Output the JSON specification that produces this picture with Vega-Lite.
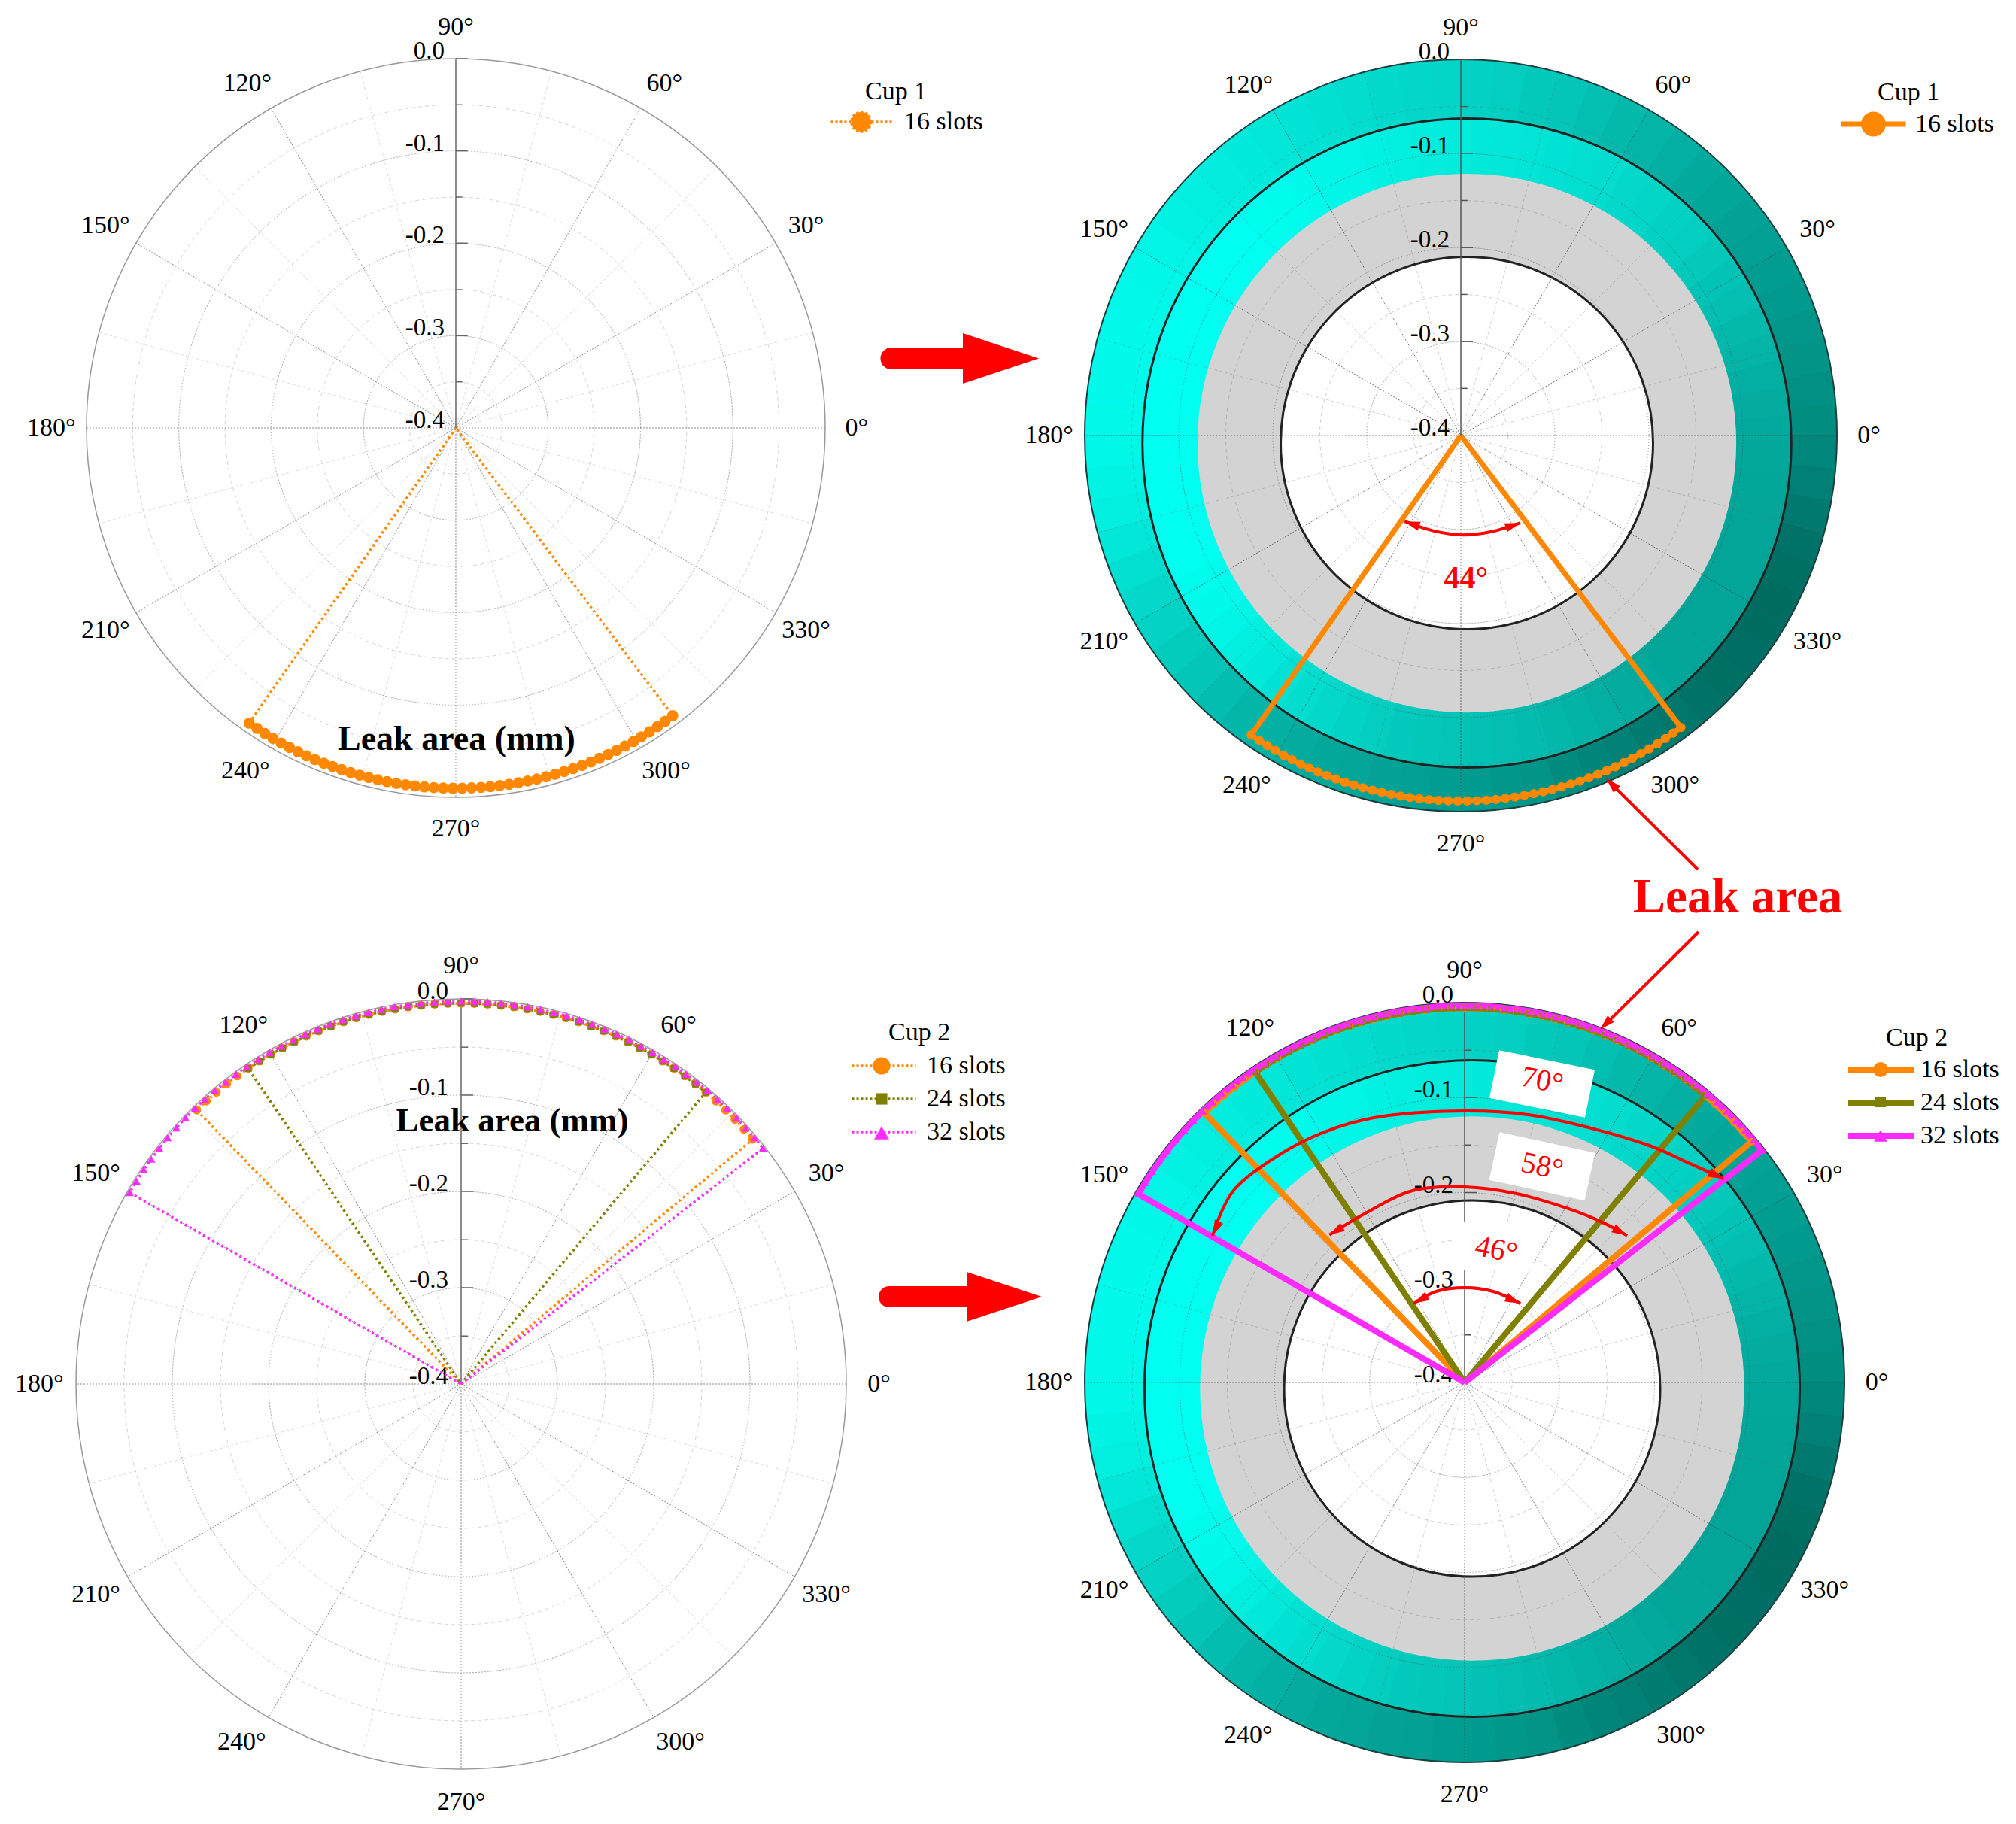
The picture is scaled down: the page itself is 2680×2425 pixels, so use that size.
{"$schema":"https://vega.github.io/schema/vega-lite/v6.json","background":"white","padding":0,"bounds":"flush","spacing":0,"columns":2,
"resolve":{"scale":{"x":"independent","y":"independent","radius":"independent","theta":"independent","color":"independent","fill":"independent","stroke":"independent"},"legend":{"color":"independent"}},
"config":{"view":{"stroke":null},"axis":{"disable":true},"text":{"font":"Liberation Serif","color":"#000"}},
"datasets":{
"segO":[{"o":0,"a":0,"a2":5,"ri":-0.08,"ro":0,"s":143},{"o":0,"a":5,"a2":10,"ri":-0.08,"ro":0,"s":146},{"o":0,"a":10,"a2":15,"ri":-0.08,"ro":0,"s":150},{"o":0,"a":15,"a2":20,"ri":-0.08,"ro":0,"s":153},{"o":0,"a":20,"a2":25,"ri":-0.08,"ro":0,"s":157},{"o":0,"a":25,"a2":30,"ri":-0.08,"ro":0,"s":160},{"o":0,"a":30,"a2":35,"ri":-0.08,"ro":0,"s":163},{"o":0,"a":35,"a2":40,"ri":-0.08,"ro":0,"s":166},{"o":0,"a":40,"a2":45,"ri":-0.08,"ro":0,"s":170},{"o":0,"a":45,"a2":50,"ri":-0.08,"ro":0,"s":174},{"o":0,"a":50,"a2":55,"ri":-0.08,"ro":0,"s":178},{"o":0,"a":55,"a2":60,"ri":-0.08,"ro":0,"s":183},{"o":0,"a":60,"a2":65,"ri":-0.08,"ro":0,"s":188},{"o":0,"a":65,"a2":70,"ri":-0.08,"ro":0,"s":194},{"o":0,"a":70,"a2":75,"ri":-0.08,"ro":0,"s":200},{"o":0,"a":75,"a2":80,"ri":-0.08,"ro":0,"s":204},{"o":0,"a":80,"a2":85,"ri":-0.08,"ro":0,"s":208},{"o":0,"a":85,"a2":90,"ri":-0.08,"ro":0,"s":211},{"o":0,"a":90,"a2":95,"ri":-0.08,"ro":0,"s":215},{"o":0,"a":95,"a2":100,"ri":-0.08,"ro":0,"s":217},{"o":0,"a":100,"a2":105,"ri":-0.08,"ro":0,"s":220},{"o":0,"a":105,"a2":110,"ri":-0.08,"ro":0,"s":223},{"o":0,"a":110,"a2":115,"ri":-0.08,"ro":0,"s":226},{"o":0,"a":115,"a2":120,"ri":-0.08,"ro":0,"s":229},{"o":0,"a":120,"a2":125,"ri":-0.08,"ro":0,"s":232},{"o":0,"a":125,"a2":130,"ri":-0.08,"ro":0,"s":235},{"o":0,"a":130,"a2":135,"ri":-0.08,"ro":0,"s":238},{"o":0,"a":135,"a2":140,"ri":-0.08,"ro":0,"s":240},{"o":0,"a":140,"a2":145,"ri":-0.08,"ro":0,"s":243},{"o":0,"a":145,"a2":150,"ri":-0.08,"ro":0,"s":245},{"o":0,"a":150,"a2":155,"ri":-0.08,"ro":0,"s":248},{"o":0,"a":155,"a2":160,"ri":-0.08,"ro":0,"s":249},{"o":0,"a":160,"a2":165,"ri":-0.08,"ro":0,"s":250},{"o":0,"a":165,"a2":170,"ri":-0.08,"ro":0,"s":250},{"o":0,"a":170,"a2":175,"ri":-0.08,"ro":0,"s":250},{"o":0,"a":175,"a2":180,"ri":-0.08,"ro":0,"s":249},{"o":0,"a":180,"a2":185,"ri":-0.08,"ro":0,"s":248},{"o":0,"a":185,"a2":190,"ri":-0.08,"ro":0,"s":244},{"o":0,"a":190,"a2":195,"ri":-0.08,"ro":0,"s":240},{"o":0,"a":195,"a2":200,"ri":-0.08,"ro":0,"s":232},{"o":0,"a":200,"a2":205,"ri":-0.08,"ro":0,"s":225},{"o":0,"a":205,"a2":210,"ri":-0.08,"ro":0,"s":218},{"o":0,"a":210,"a2":215,"ri":-0.08,"ro":0,"s":212},{"o":0,"a":215,"a2":220,"ri":-0.08,"ro":0,"s":206},{"o":0,"a":220,"a2":225,"ri":-0.08,"ro":0,"s":200},{"o":0,"a":225,"a2":230,"ri":-0.08,"ro":0,"s":192},{"o":0,"a":230,"a2":235,"ri":-0.08,"ro":0,"s":185},{"o":0,"a":235,"a2":240,"ri":-0.08,"ro":0,"s":180},{"o":0,"a":240,"a2":245,"ri":-0.08,"ro":0,"s":175},{"o":0,"a":245,"a2":250,"ri":-0.08,"ro":0,"s":171},{"o":0,"a":250,"a2":255,"ri":-0.08,"ro":0,"s":168},{"o":0,"a":255,"a2":260,"ri":-0.08,"ro":0,"s":165},{"o":0,"a":260,"a2":265,"ri":-0.08,"ro":0,"s":162},{"o":0,"a":265,"a2":270,"ri":-0.08,"ro":0,"s":160},{"o":0,"a":270,"a2":275,"ri":-0.08,"ro":0,"s":158},{"o":0,"a":275,"a2":280,"ri":-0.08,"ro":0,"s":154},{"o":0,"a":280,"a2":285,"ri":-0.08,"ro":0,"s":150},{"o":0,"a":285,"a2":290,"ri":-0.08,"ro":0,"s":142},{"o":0,"a":290,"a2":295,"ri":-0.08,"ro":0,"s":135},{"o":0,"a":295,"a2":300,"ri":-0.08,"ro":0,"s":130},{"o":0,"a":300,"a2":305,"ri":-0.08,"ro":0,"s":125},{"o":0,"a":305,"a2":310,"ri":-0.08,"ro":0,"s":120},{"o":0,"a":310,"a2":315,"ri":-0.08,"ro":0,"s":115},{"o":0,"a":315,"a2":320,"ri":-0.08,"ro":0,"s":112},{"o":0,"a":320,"a2":325,"ri":-0.08,"ro":0,"s":110},{"o":0,"a":325,"a2":330,"ri":-0.08,"ro":0,"s":109},{"o":0,"a":330,"a2":335,"ri":-0.08,"ro":0,"s":108},{"o":0,"a":335,"a2":340,"ri":-0.08,"ro":0,"s":111},{"o":0,"a":340,"a2":345,"ri":-0.08,"ro":0,"s":115},{"o":0,"a":345,"a2":350,"ri":-0.08,"ro":0,"s":122},{"o":0,"a":350,"a2":355,"ri":-0.08,"ro":0,"s":130},{"o":0,"a":355,"a2":360,"ri":-0.08,"ro":0,"s":136}],
"segI":[{"o":0,"a":0,"a2":5,"ri":-0.125,"ro":-0.055,"s":172},{"o":0,"a":5,"a2":10,"ri":-0.125,"ro":-0.055,"s":175},{"o":0,"a":10,"a2":15,"ri":-0.125,"ro":-0.055,"s":178},{"o":0,"a":15,"a2":20,"ri":-0.125,"ro":-0.055,"s":183},{"o":0,"a":20,"a2":25,"ri":-0.125,"ro":-0.055,"s":188},{"o":0,"a":25,"a2":30,"ri":-0.125,"ro":-0.055,"s":193},{"o":0,"a":30,"a2":35,"ri":-0.125,"ro":-0.055,"s":198},{"o":0,"a":35,"a2":40,"ri":-0.125,"ro":-0.055,"s":203},{"o":0,"a":40,"a2":45,"ri":-0.125,"ro":-0.055,"s":208},{"o":0,"a":45,"a2":50,"ri":-0.125,"ro":-0.055,"s":211},{"o":0,"a":50,"a2":55,"ri":-0.125,"ro":-0.055,"s":215},{"o":0,"a":55,"a2":60,"ri":-0.125,"ro":-0.055,"s":218},{"o":0,"a":60,"a2":65,"ri":-0.125,"ro":-0.055,"s":222},{"o":0,"a":65,"a2":70,"ri":-0.125,"ro":-0.055,"s":225},{"o":0,"a":70,"a2":75,"ri":-0.125,"ro":-0.055,"s":228},{"o":0,"a":75,"a2":80,"ri":-0.125,"ro":-0.055,"s":230},{"o":0,"a":80,"a2":85,"ri":-0.125,"ro":-0.055,"s":232},{"o":0,"a":85,"a2":90,"ri":-0.125,"ro":-0.055,"s":234},{"o":0,"a":90,"a2":95,"ri":-0.125,"ro":-0.055,"s":236},{"o":0,"a":95,"a2":100,"ri":-0.125,"ro":-0.055,"s":238},{"o":0,"a":100,"a2":105,"ri":-0.125,"ro":-0.055,"s":240},{"o":0,"a":105,"a2":110,"ri":-0.125,"ro":-0.055,"s":242},{"o":0,"a":110,"a2":115,"ri":-0.125,"ro":-0.055,"s":245},{"o":0,"a":115,"a2":120,"ri":-0.125,"ro":-0.055,"s":247},{"o":0,"a":120,"a2":125,"ri":-0.125,"ro":-0.055,"s":250},{"o":0,"a":125,"a2":130,"ri":-0.125,"ro":-0.055,"s":252},{"o":0,"a":130,"a2":135,"ri":-0.125,"ro":-0.055,"s":254},{"o":0,"a":135,"a2":205,"ri":-0.125,"ro":-0.055,"s":255},{"o":0,"a":205,"a2":210,"ri":-0.125,"ro":-0.055,"s":252},{"o":0,"a":210,"a2":215,"ri":-0.125,"ro":-0.055,"s":250},{"o":0,"a":215,"a2":220,"ri":-0.125,"ro":-0.055,"s":245},{"o":0,"a":220,"a2":225,"ri":-0.125,"ro":-0.055,"s":240},{"o":0,"a":225,"a2":230,"ri":-0.125,"ro":-0.055,"s":234},{"o":0,"a":230,"a2":235,"ri":-0.125,"ro":-0.055,"s":228},{"o":0,"a":235,"a2":240,"ri":-0.125,"ro":-0.055,"s":223},{"o":0,"a":240,"a2":245,"ri":-0.125,"ro":-0.055,"s":218},{"o":0,"a":245,"a2":250,"ri":-0.125,"ro":-0.055,"s":213},{"o":0,"a":250,"a2":255,"ri":-0.125,"ro":-0.055,"s":208},{"o":0,"a":255,"a2":260,"ri":-0.125,"ro":-0.055,"s":205},{"o":0,"a":260,"a2":265,"ri":-0.125,"ro":-0.055,"s":202},{"o":0,"a":265,"a2":270,"ri":-0.125,"ro":-0.055,"s":199},{"o":0,"a":270,"a2":275,"ri":-0.125,"ro":-0.055,"s":196},{"o":0,"a":275,"a2":280,"ri":-0.125,"ro":-0.055,"s":193},{"o":0,"a":280,"a2":285,"ri":-0.125,"ro":-0.055,"s":190},{"o":0,"a":285,"a2":290,"ri":-0.125,"ro":-0.055,"s":186},{"o":0,"a":290,"a2":295,"ri":-0.125,"ro":-0.055,"s":182},{"o":0,"a":295,"a2":300,"ri":-0.125,"ro":-0.055,"s":178},{"o":0,"a":300,"a2":305,"ri":-0.125,"ro":-0.055,"s":175},{"o":0,"a":305,"a2":310,"ri":-0.125,"ro":-0.055,"s":172},{"o":0,"a":310,"a2":315,"ri":-0.125,"ro":-0.055,"s":170},{"o":0,"a":315,"a2":320,"ri":-0.125,"ro":-0.055,"s":169},{"o":0,"a":320,"a2":345,"ri":-0.125,"ro":-0.055,"s":168},{"o":0,"a":345,"a2":350,"ri":-0.125,"ro":-0.055,"s":169},{"o":0,"a":350,"a2":355,"ri":-0.125,"ro":-0.055,"s":170},{"o":0,"a":355,"a2":360,"ri":-0.125,"ro":-0.055,"s":171}],
"minorcir":[{"v":-0.35,"i":-0.4,"a0":0,"a1":360,"o":0},{"v":-0.25,"i":-0.4,"a0":0,"a1":360,"o":0},{"v":-0.15,"i":-0.4,"a0":0,"a1":360,"o":0},{"v":-0.05,"i":-0.4,"a0":0,"a1":360,"o":0}],
"majorcir":[{"v":-0.3,"i":-0.4,"a0":0,"a1":360,"o":0},{"v":-0.2,"i":-0.4,"a0":0,"a1":360,"o":0},{"v":-0.1,"i":-0.4,"a0":0,"a1":360,"o":0}],
"rim":[{"v":0,"i":-0.4,"a0":0,"a1":360,"o":0}],
"black":[{"v":-0.055,"i":-0.4,"a0":0,"a1":360,"o":0},{"v":-0.202,"i":-0.4,"a0":0,"a1":360,"o":0}],
"grey":[{"v":-0.1135,"i":-0.202,"a0":0,"a1":360,"o":0}],
"ang":[{"o":0,"a":0,"t":"0°","r":0.034},{"o":0,"a":30,"t":"30°","r":0.038},{"o":0,"a":58.8,"t":"60°","r":0.036},{"o":0,"a":90,"t":"90°","r":0.034},{"o":0,"a":121.2,"t":"120°","r":0.036},{"o":0,"a":150,"t":"150°","r":0.038},{"o":0,"a":180,"t":"180°","r":0.038},{"o":0,"a":210,"t":"210°","r":0.038},{"o":0,"a":238.5,"t":"240°","r":0.036},{"o":0,"a":270,"t":"270°","r":0.034},{"o":0,"a":301.5,"t":"300°","r":0.036},{"o":0,"a":330,"t":"330°","r":0.038}],
"cup1":[{"s":"16 slots","a":234,"v":-0.4,"x":0,"y":0},{"s":"16 slots","a":235,"x":-0.5736,"y":-0.8192},{"s":"16 slots","a":236.5,"x":-0.5519,"y":-0.8339},{"s":"16 slots","a":238,"x":-0.5299,"y":-0.848},{"s":"16 slots","a":239.5,"x":-0.5075,"y":-0.8616},{"s":"16 slots","a":241,"x":-0.4848,"y":-0.8746},{"s":"16 slots","a":242.5,"x":-0.4617,"y":-0.887},{"s":"16 slots","a":244,"x":-0.4384,"y":-0.8988},{"s":"16 slots","a":245.5,"x":-0.4147,"y":-0.91},{"s":"16 slots","a":247,"x":-0.3907,"y":-0.9205},{"s":"16 slots","a":248.5,"x":-0.3665,"y":-0.9304},{"s":"16 slots","a":250,"x":-0.342,"y":-0.9397},{"s":"16 slots","a":251.5,"x":-0.3173,"y":-0.9483},{"s":"16 slots","a":253,"x":-0.2924,"y":-0.9563},{"s":"16 slots","a":254.5,"x":-0.2672,"y":-0.9636},{"s":"16 slots","a":256,"x":-0.2419,"y":-0.9703},{"s":"16 slots","a":257.5,"x":-0.2164,"y":-0.9763},{"s":"16 slots","a":259,"x":-0.1908,"y":-0.9816},{"s":"16 slots","a":260.5,"x":-0.165,"y":-0.9863},{"s":"16 slots","a":262,"x":-0.1392,"y":-0.9903},{"s":"16 slots","a":263.5,"x":-0.1132,"y":-0.9936},{"s":"16 slots","a":265,"x":-0.0872,"y":-0.9962},{"s":"16 slots","a":266.5,"x":-0.061,"y":-0.9981},{"s":"16 slots","a":268,"x":-0.0349,"y":-0.9994},{"s":"16 slots","a":269.5,"x":-0.0087,"y":-1},{"s":"16 slots","a":271,"x":0.0175,"y":-0.9998},{"s":"16 slots","a":272.5,"x":0.0436,"y":-0.999},{"s":"16 slots","a":274,"x":0.0698,"y":-0.9976},{"s":"16 slots","a":275.5,"x":0.0958,"y":-0.9954},{"s":"16 slots","a":277,"x":0.1219,"y":-0.9925},{"s":"16 slots","a":278.5,"x":0.1478,"y":-0.989},{"s":"16 slots","a":280,"x":0.1736,"y":-0.9848},{"s":"16 slots","a":281.5,"x":0.1994,"y":-0.9799},{"s":"16 slots","a":283,"x":0.225,"y":-0.9744},{"s":"16 slots","a":284.5,"x":0.2504,"y":-0.9681},{"s":"16 slots","a":286,"x":0.2756,"y":-0.9613},{"s":"16 slots","a":287.5,"x":0.3007,"y":-0.9537},{"s":"16 slots","a":289,"x":0.3256,"y":-0.9455},{"s":"16 slots","a":290.5,"x":0.3502,"y":-0.9367},{"s":"16 slots","a":292,"x":0.3746,"y":-0.9272},{"s":"16 slots","a":293.5,"x":0.3987,"y":-0.9171},{"s":"16 slots","a":295,"x":0.4226,"y":-0.9063},{"s":"16 slots","a":296.5,"x":0.4462,"y":-0.8949},{"s":"16 slots","a":298,"x":0.4695,"y":-0.8829},{"s":"16 slots","a":299.5,"x":0.4924,"y":-0.8704},{"s":"16 slots","a":301,"x":0.515,"y":-0.8572},{"s":"16 slots","a":302.5,"x":0.5373,"y":-0.8434},{"s":"16 slots","a":304,"x":0.5592,"y":-0.829},{"s":"16 slots","a":305.5,"x":0.5807,"y":-0.8141},{"s":"16 slots","a":307,"x":0.6018,"y":-0.7986},{"s":"16 slots","a":308,"v":-0.4,"x":0,"y":0}],
"cup2":[{"s":"16 slots","a":39,"v":-0.4,"x":0,"y":0},{"s":"16 slots","a":40,"x":0.766,"y":0.6428},{"s":"16 slots","a":42,"x":0.7431,"y":0.6691},{"s":"16 slots","a":44,"x":0.7193,"y":0.6947},{"s":"16 slots","a":46,"x":0.6947,"y":0.7193},{"s":"16 slots","a":48,"x":0.6691,"y":0.7431},{"s":"16 slots","a":50,"x":0.6428,"y":0.766},{"s":"16 slots","a":52,"x":0.6157,"y":0.788},{"s":"16 slots","a":54,"x":0.5878,"y":0.809},{"s":"16 slots","a":56,"x":0.5592,"y":0.829},{"s":"16 slots","a":58,"x":0.5299,"y":0.848},{"s":"16 slots","a":60,"x":0.5,"y":0.866},{"s":"16 slots","a":62,"x":0.4695,"y":0.8829},{"s":"16 slots","a":64,"x":0.4384,"y":0.8988},{"s":"16 slots","a":66,"x":0.4067,"y":0.9135},{"s":"16 slots","a":68,"x":0.3746,"y":0.9272},{"s":"16 slots","a":70,"x":0.342,"y":0.9397},{"s":"16 slots","a":72,"x":0.309,"y":0.9511},{"s":"16 slots","a":74,"x":0.2756,"y":0.9613},{"s":"16 slots","a":76,"x":0.2419,"y":0.9703},{"s":"16 slots","a":78,"x":0.2079,"y":0.9781},{"s":"16 slots","a":80,"x":0.1736,"y":0.9848},{"s":"16 slots","a":82,"x":0.1392,"y":0.9903},{"s":"16 slots","a":84,"x":0.1045,"y":0.9945},{"s":"16 slots","a":86,"x":0.0698,"y":0.9976},{"s":"16 slots","a":88,"x":0.0349,"y":0.9994},{"s":"16 slots","a":90,"x":0,"y":1},{"s":"16 slots","a":92,"x":-0.0349,"y":0.9994},{"s":"16 slots","a":94,"x":-0.0698,"y":0.9976},{"s":"16 slots","a":96,"x":-0.1045,"y":0.9945},{"s":"16 slots","a":98,"x":-0.1392,"y":0.9903},{"s":"16 slots","a":100,"x":-0.1736,"y":0.9848},{"s":"16 slots","a":102,"x":-0.2079,"y":0.9781},{"s":"16 slots","a":104,"x":-0.2419,"y":0.9703},{"s":"16 slots","a":106,"x":-0.2756,"y":0.9613},{"s":"16 slots","a":108,"x":-0.309,"y":0.9511},{"s":"16 slots","a":110,"x":-0.342,"y":0.9397},{"s":"16 slots","a":112,"x":-0.3746,"y":0.9272},{"s":"16 slots","a":114,"x":-0.4067,"y":0.9135},{"s":"16 slots","a":116,"x":-0.4384,"y":0.8988},{"s":"16 slots","a":118,"x":-0.4695,"y":0.8829},{"s":"16 slots","a":120,"x":-0.5,"y":0.866},{"s":"16 slots","a":122,"x":-0.5299,"y":0.848},{"s":"16 slots","a":124,"x":-0.5592,"y":0.829},{"s":"16 slots","a":126,"x":-0.5878,"y":0.809},{"s":"16 slots","a":128,"x":-0.6157,"y":0.788},{"s":"16 slots","a":130,"x":-0.6428,"y":0.766},{"s":"16 slots","a":132,"x":-0.6691,"y":0.7431},{"s":"16 slots","a":134,"x":-0.6947,"y":0.7193},{"s":"16 slots","a":135,"v":-0.4,"x":0,"y":0},
{"s":"24 slots","a":49,"v":-0.4,"x":0,"y":0},{"s":"24 slots","a":50,"x":0.6428,"y":0.766},{"s":"24 slots","a":52,"x":0.6157,"y":0.788},{"s":"24 slots","a":54,"x":0.5878,"y":0.809},{"s":"24 slots","a":56,"x":0.5592,"y":0.829},{"s":"24 slots","a":58,"x":0.5299,"y":0.848},{"s":"24 slots","a":60,"x":0.5,"y":0.866},{"s":"24 slots","a":62,"x":0.4695,"y":0.8829},{"s":"24 slots","a":64,"x":0.4384,"y":0.8988},{"s":"24 slots","a":66,"x":0.4067,"y":0.9135},{"s":"24 slots","a":68,"x":0.3746,"y":0.9272},{"s":"24 slots","a":70,"x":0.342,"y":0.9397},{"s":"24 slots","a":72,"x":0.309,"y":0.9511},{"s":"24 slots","a":74,"x":0.2756,"y":0.9613},{"s":"24 slots","a":76,"x":0.2419,"y":0.9703},{"s":"24 slots","a":78,"x":0.2079,"y":0.9781},{"s":"24 slots","a":80,"x":0.1736,"y":0.9848},{"s":"24 slots","a":82,"x":0.1392,"y":0.9903},{"s":"24 slots","a":84,"x":0.1045,"y":0.9945},{"s":"24 slots","a":86,"x":0.0698,"y":0.9976},{"s":"24 slots","a":88,"x":0.0349,"y":0.9994},{"s":"24 slots","a":90,"x":0,"y":1},{"s":"24 slots","a":92,"x":-0.0349,"y":0.9994},{"s":"24 slots","a":94,"x":-0.0698,"y":0.9976},{"s":"24 slots","a":96,"x":-0.1045,"y":0.9945},{"s":"24 slots","a":98,"x":-0.1392,"y":0.9903},{"s":"24 slots","a":100,"x":-0.1736,"y":0.9848},{"s":"24 slots","a":102,"x":-0.2079,"y":0.9781},{"s":"24 slots","a":104,"x":-0.2419,"y":0.9703},{"s":"24 slots","a":106,"x":-0.2756,"y":0.9613},{"s":"24 slots","a":108,"x":-0.309,"y":0.9511},{"s":"24 slots","a":110,"x":-0.342,"y":0.9397},{"s":"24 slots","a":112,"x":-0.3746,"y":0.9272},{"s":"24 slots","a":114,"x":-0.4067,"y":0.9135},{"s":"24 slots","a":116,"x":-0.4384,"y":0.8988},{"s":"24 slots","a":118,"x":-0.4695,"y":0.8829},{"s":"24 slots","a":120,"x":-0.5,"y":0.866},{"s":"24 slots","a":122,"x":-0.5299,"y":0.848},{"s":"24 slots","a":124,"x":-0.5592,"y":0.829},{"s":"24 slots","a":125,"v":-0.4,"x":0,"y":0},
{"s":"32 slots","a":37,"v":-0.4,"x":0,"y":0},{"s":"32 slots","a":38,"x":0.793,"y":0.619},{"s":"32 slots","a":40,"x":0.771,"y":0.647},{"s":"32 slots","a":42,"x":0.748,"y":0.673},{"s":"32 slots","a":44,"x":0.724,"y":0.699},{"s":"32 slots","a":46,"x":0.699,"y":0.724},{"s":"32 slots","a":48,"x":0.673,"y":0.748},{"s":"32 slots","a":50,"x":0.647,"y":0.771},{"s":"32 slots","a":52,"x":0.619,"y":0.793},{"s":"32 slots","a":54,"x":0.591,"y":0.814},{"s":"32 slots","a":56,"x":0.563,"y":0.834},{"s":"32 slots","a":58,"x":0.533,"y":0.853},{"s":"32 slots","a":60,"x":0.503,"y":0.871},{"s":"32 slots","a":62,"x":0.472,"y":0.888},{"s":"32 slots","a":64,"x":0.441,"y":0.904},{"s":"32 slots","a":66,"x":0.409,"y":0.919},{"s":"32 slots","a":68,"x":0.377,"y":0.933},{"s":"32 slots","a":70,"x":0.344,"y":0.945},{"s":"32 slots","a":72,"x":0.311,"y":0.957},{"s":"32 slots","a":74,"x":0.277,"y":0.967},{"s":"32 slots","a":76,"x":0.243,"y":0.976},{"s":"32 slots","a":78,"x":0.209,"y":0.984},{"s":"32 slots","a":80,"x":0.175,"y":0.991},{"s":"32 slots","a":82,"x":0.14,"y":0.996},{"s":"32 slots","a":84,"x":0.105,"y":1},{"s":"32 slots","a":86,"x":0.07,"y":1.004},{"s":"32 slots","a":88,"x":0.035,"y":1.005},{"s":"32 slots","a":90,"x":0,"y":1.006},{"s":"32 slots","a":92,"x":-0.035,"y":1.005},{"s":"32 slots","a":94,"x":-0.07,"y":1.004},{"s":"32 slots","a":96,"x":-0.105,"y":1},{"s":"32 slots","a":98,"x":-0.14,"y":0.996},{"s":"32 slots","a":100,"x":-0.175,"y":0.991},{"s":"32 slots","a":102,"x":-0.209,"y":0.984},{"s":"32 slots","a":104,"x":-0.243,"y":0.976},{"s":"32 slots","a":106,"x":-0.277,"y":0.967},{"s":"32 slots","a":108,"x":-0.311,"y":0.957},{"s":"32 slots","a":110,"x":-0.344,"y":0.945},{"s":"32 slots","a":112,"x":-0.377,"y":0.933},{"s":"32 slots","a":114,"x":-0.409,"y":0.919},{"s":"32 slots","a":116,"x":-0.441,"y":0.904},{"s":"32 slots","a":118,"x":-0.472,"y":0.888},{"s":"32 slots","a":120,"x":-0.503,"y":0.871},{"s":"32 slots","a":122,"x":-0.533,"y":0.853},{"s":"32 slots","a":124,"x":-0.563,"y":0.834},{"s":"32 slots","a":126,"x":-0.591,"y":0.814},{"s":"32 slots","a":128,"x":-0.619,"y":0.793},{"s":"32 slots","a":130,"x":-0.647,"y":0.771},{"s":"32 slots","a":132,"x":-0.673,"y":0.748},{"s":"32 slots","a":134,"x":-0.699,"y":0.724},{"s":"32 slots","a":136,"x":-0.724,"y":0.699},{"s":"32 slots","a":138,"x":-0.748,"y":0.673},{"s":"32 slots","a":140,"x":-0.771,"y":0.647},{"s":"32 slots","a":142,"x":-0.793,"y":0.619},{"s":"32 slots","a":144,"x":-0.814,"y":0.591},{"s":"32 slots","a":146,"x":-0.834,"y":0.563},{"s":"32 slots","a":148,"x":-0.853,"y":0.533},{"s":"32 slots","a":150,"x":-0.871,"y":0.503},{"s":"32 slots","a":151,"v":-0.4,"x":0,"y":0}],
"majTL":[{"x":1.025,"y":0,"x2":-1.025,"y2":0},{"x":0.888,"y":0.513,"x2":-0.888,"y2":-0.513},{"x":0.513,"y":0.888,"x2":-0.513,"y2":-0.888},{"x":-0.888,"y":0.513,"x2":0.888,"y2":-0.513},{"x":-0.513,"y":0.888,"x2":0.513,"y2":-0.888},{"x":0,"y":0,"x2":0,"y2":-1.025}],
"minTL":[{"x":0.99,"y":0.265,"x2":-0.99,"y2":-0.265},{"x":0.725,"y":0.725,"x2":-0.725,"y2":-0.725},{"x":0.265,"y":0.99,"x2":-0.265,"y2":-0.99},{"x":-0.265,"y":0.99,"x2":0.265,"y2":-0.99},{"x":-0.725,"y":0.725,"x2":0.725,"y2":-0.725},{"x":-0.99,"y":0.265,"x2":0.99,"y2":-0.265}],
"radTL":[{"o":0,"y":1.025,"e":0.033,"t":"0.0"},{"o":0,"y":0.769,"e":0.033,"t":"-0.1"},{"o":0,"y":0.513,"e":0.033,"t":"-0.2"},{"o":0,"y":0.256,"e":0.033,"t":"-0.3"},{"o":0,"y":0,"e":0,"t":"-0.4"},{"o":0,"y":0.897,"e":0.018},{"o":0,"y":0.641,"e":0.018},{"o":0,"y":0.384,"e":0.018},{"o":0,"y":0.128,"e":0.018}],
"majTR":[{"x":1.029,"y":0,"x2":-1.029,"y2":0},{"x":0.891,"y":0.514,"x2":-0.891,"y2":-0.514},{"x":0.514,"y":0.891,"x2":-0.514,"y2":-0.891},{"x":-0.891,"y":0.514,"x2":0.891,"y2":-0.514},{"x":-0.514,"y":0.891,"x2":0.514,"y2":-0.891},{"x":0,"y":0,"x2":0,"y2":-1.029}],
"minTR":[{"x":0.994,"y":0.266,"x2":-0.994,"y2":-0.266},{"x":0.728,"y":0.728,"x2":-0.728,"y2":-0.728},{"x":0.266,"y":0.994,"x2":-0.266,"y2":-0.994},{"x":-0.266,"y":0.994,"x2":0.266,"y2":-0.994},{"x":-0.728,"y":0.728,"x2":0.728,"y2":-0.728},{"x":-0.994,"y":0.266,"x2":0.994,"y2":-0.266}],
"radTR":[{"o":0,"y":1.029,"e":0.033,"t":"0.0"},{"o":0,"y":0.772,"e":0.033,"t":"-0.1"},{"o":0,"y":0.514,"e":0.033,"t":"-0.2"},{"o":0,"y":0.257,"e":0.033,"t":"-0.3"},{"o":0,"y":0,"e":0,"t":"-0.4"},{"o":0,"y":0.9,"e":0.018},{"o":0,"y":0.643,"e":0.018},{"o":0,"y":0.386,"e":0.018},{"o":0,"y":0.129,"e":0.018}],
"majBL":[{"x":1.012,"y":0,"x2":-1.012,"y2":0},{"x":0.876,"y":0.506,"x2":-0.876,"y2":-0.506},{"x":0.506,"y":0.876,"x2":-0.506,"y2":-0.876},{"x":-0.876,"y":0.506,"x2":0.876,"y2":-0.506},{"x":-0.506,"y":0.876,"x2":0.506,"y2":-0.876},{"x":0,"y":0,"x2":0,"y2":-1.012}],
"minBL":[{"x":0.978,"y":0.262,"x2":-0.978,"y2":-0.262},{"x":0.716,"y":0.716,"x2":-0.716,"y2":-0.716},{"x":0.262,"y":0.978,"x2":-0.262,"y2":-0.978},{"x":-0.262,"y":0.978,"x2":0.262,"y2":-0.978},{"x":-0.716,"y":0.716,"x2":0.716,"y2":-0.716},{"x":-0.978,"y":0.262,"x2":0.978,"y2":-0.262}],
"radBL":[{"o":0,"y":1.012,"e":0.032,"t":"0.0"},{"o":0,"y":0.759,"e":0.032,"t":"-0.1"},{"o":0,"y":0.506,"e":0.032,"t":"-0.2"},{"o":0,"y":0.253,"e":0.032,"t":"-0.3"},{"o":0,"y":0,"e":0,"t":"-0.4"},{"o":0,"y":0.885,"e":0.018},{"o":0,"y":0.632,"e":0.018},{"o":0,"y":0.379,"e":0.018},{"o":0,"y":0.126,"e":0.018}],
"majBR":[{"x":1.014,"y":0,"x2":-1.014,"y2":0},{"x":0.878,"y":0.507,"x2":-0.878,"y2":-0.507},{"x":0.507,"y":0.878,"x2":-0.507,"y2":-0.878},{"x":-0.878,"y":0.507,"x2":0.878,"y2":-0.507},{"x":-0.507,"y":0.878,"x2":0.507,"y2":-0.878},{"x":0,"y":0,"x2":0,"y2":-1.014}],
"minBR":[{"x":0.979,"y":0.262,"x2":-0.979,"y2":-0.262},{"x":0.717,"y":0.717,"x2":-0.717,"y2":-0.717},{"x":0.262,"y":0.979,"x2":-0.262,"y2":-0.979},{"x":-0.262,"y":0.979,"x2":0.262,"y2":-0.979},{"x":-0.717,"y":0.717,"x2":0.717,"y2":-0.717},{"x":-0.979,"y":0.262,"x2":0.979,"y2":-0.262}],
"radBR":[{"o":0,"y":1.014,"e":0.032,"t":"0.0"},{"o":0,"y":0.761,"e":0.032,"t":"-0.1"},{"o":0,"y":0.507,"e":0.032,"t":"-0.2"},{"o":0,"y":0.254,"e":0.032,"t":"-0.3"},{"o":0,"y":0,"e":0,"t":"-0.4"},{"o":0,"y":0.887,"e":0.018},{"o":0,"y":0.634,"e":0.018},{"o":0,"y":0.38,"e":0.018},{"o":0,"y":0.127,"e":0.018}]
},
"concat":[
{"width":1340,"height":1212,"layer":[
{"data":{"name":"minorcir"},"mark":{"type":"arc","filled":false,"stroke":"#d4d4d4","strokeDash":[5,4],"strokeWidth":1},"encoding":{"x":{"field":"o","type":"quantitative","scale":{"domain":[-1.2651,1.5324],"nice":false}},"y":{"field":"o","type":"quantitative","scale":{"domain":[-1.3424,1.1879],"nice":false}},"radius":{"field":"v","type":"quantitative","scale":{"type":"linear","domain":[-0.4,0],"range":[0,491],"nice":false}},"radius2":{"field":"i"},"theta":{"field":"a0","type":"quantitative","stack":null,"scale":{"domain":[90,-270],"range":[0,6.2832],"nice":false}},"theta2":{"field":"a1"}}},
{"data":{"name":"majorcir"},"mark":{"type":"arc","filled":false,"stroke":"#aaaaaa","strokeDash":[2,2],"strokeWidth":1},"encoding":{"x":{"field":"o","type":"quantitative"},"y":{"field":"o","type":"quantitative"},"radius":{"field":"v","type":"quantitative"},"radius2":{"field":"i"},"theta":{"field":"a0","type":"quantitative","stack":null},"theta2":{"field":"a1"}}},
{"data":{"name":"rim"},"mark":{"type":"arc","filled":false,"stroke":"#999999","strokeWidth":1.5},"encoding":{"x":{"field":"o","type":"quantitative"},"y":{"field":"o","type":"quantitative"},"radius":{"field":"v","type":"quantitative"},"radius2":{"field":"i"},"theta":{"field":"a0","type":"quantitative","stack":null},"theta2":{"field":"a1"}}},
{"data":{"name":"minTL"},"mark":{"type":"rule","stroke":"#dddddd","strokeDash":[4,3],"strokeWidth":1},"encoding":{"x":{"field":"x","type":"quantitative"},"y":{"field":"y","type":"quantitative"},"x2":{"field":"x2"},"y2":{"field":"y2"}}},
{"data":{"name":"majTL"},"mark":{"type":"rule","stroke":"#8c8c8c","strokeDash":[2,2],"strokeWidth":1},"encoding":{"x":{"field":"x","type":"quantitative"},"y":{"field":"y","type":"quantitative"},"x2":{"field":"x2"},"y2":{"field":"y2"}}},
{"data":{"values":[{"x":0,"y":0,"y2":1.025}]},"mark":{"type":"rule","stroke":"#666666","strokeWidth":1.5},"encoding":{"x":{"field":"x","type":"quantitative"},"y":{"field":"y","type":"quantitative"},"y2":{"field":"y2"}}},
{"data":{"name":"radTL"},"mark":{"type":"rule","stroke":"#666666","strokeWidth":1.5},"encoding":{"x":{"field":"o","type":"quantitative"},"x2":{"field":"e"},"y":{"field":"y","type":"quantitative"}}},
{"data":{"name":"radTL"},"transform":[{"filter":"isValid(datum.t)"}],"mark":{"type":"text","align":"right","baseline":"middle","dx":-15,"dy":-10,"fontSize":33},"encoding":{"x":{"field":"o","type":"quantitative"},"y":{"field":"y","type":"quantitative"},"text":{"field":"t"}}},
{"data":{"name":"ang"},"mark":{"type":"text","align":"center","baseline":"middle","fontSize":34},"encoding":{"x":{"field":"o","type":"quantitative"},"y":{"field":"o","type":"quantitative"},"radius":{"field":"r","type":"quantitative"},"theta":{"field":"a","type":"quantitative","stack":null},"text":{"field":"t"}}},
{"data":{"name":"cup1"},"mark":{"type":"line","strokeWidth":3.5,"strokeDash":[3,4]},"encoding":{"x":{"field":"x","type":"quantitative"},"y":{"field":"y","type":"quantitative"},"order":{"field":"a","type":"quantitative"},"color":{"field":"s","type":"nominal","scale":{"domain":["16 slots"],"range":["#ff8800"]}}}},
{"data":{"name":"cup1"},"transform":[{"filter":"datum.v !== -0.4"}],"mark":{"type":"point","filled":true,"size":220,"opacity":1},"encoding":{"x":{"field":"x","type":"quantitative"},"y":{"field":"y","type":"quantitative"},"color":{"field":"s","type":"nominal","legend":{"orient":"none","legendX":1128,"legendY":105,"title":"Cup 1","titleFont":"Liberation Serif","titleFontSize":34,"titleFontWeight":"normal","titleColor":"#000000","titlePadding":6,"titleAnchor":"start","labelFont":"Liberation Serif","labelFontSize":34,"labelColor":"#000000","labelOffset":40,"encoding":{"title":{"dx":{"value":22}},"symbols":{"shape":{"value":"M-3.375,0L3.375,0M1.08,0A1.08,1.08,0,1,1,-1.08,0A1.08,1.08,0,1,1,1.08,0Z"},"size":{"value":576},"strokeWidth":{"value":3.5},"strokeDash":{"value":[3,3]},"fill":{"value":"#ff8800"},"stroke":{"value":"#ff8800"},"opacity":{"value":1}}}}}}},
{"data":{"values":[{"x":0.002,"y":-0.864,"t":"Leak area (mm)"}]},"mark":{"type":"text","align":"center","baseline":"middle","fontSize":46,"fontWeight":"bold"},"encoding":{"x":{"field":"x","type":"quantitative"},"y":{"field":"y","type":"quantitative"},"text":{"field":"t"}}},
{"data":{"values":[{"x":1.2088,"y":0.1931,"x2":1.4071}]},"mark":{"type":"rule","stroke":"#ff0000","strokeWidth":29,"strokeCap":"round"},"encoding":{"x":{"field":"x","type":"quantitative"},"x2":{"field":"x2"},"y":{"field":"y","type":"quantitative"}}},
{"data":{"values":[{"x":1.4071,"y":0.263,"y2":0.1232},{"x":1.618,"y":0.1931,"y2":0.1931}]},"mark":{"type":"area","color":"#ff0000","orient":"vertical"},"encoding":{"x":{"field":"x","type":"quantitative"},"y":{"field":"y","type":"quantitative"},"y2":{"field":"y2"}}}
]},
{"width":1340,"height":1212,"layer":[
{"data":{"name":"segO"},"mark":{"type":"arc","strokeWidth":1},"encoding":{"x":{"field":"o","type":"quantitative","scale":{"domain":[-1.2387,1.5185],"nice":false}},"y":{"field":"o","type":"quantitative","scale":{"domain":[-1.3025,1.1914],"nice":false}},"radius":{"field":"ro","type":"quantitative","scale":{"type":"linear","domain":[-0.4,0],"range":[0,500],"nice":false}},"radius2":{"field":"ri"},"theta":{"field":"a","type":"quantitative","stack":null,"scale":{"domain":[90,-270],"range":[0,6.2832],"nice":false}},"theta2":{"field":"a2"},"fill":{"field":"s","type":"quantitative","scale":{"domain":[107,255],"range":["#006b61","#00fff0"]},"legend":null},"stroke":{"field":"s","type":"quantitative","scale":{"domain":[107,255],"range":["#006b61","#00fff0"]},"legend":null}}},
{"data":{"name":"segI"},"mark":{"type":"arc","strokeWidth":1,"xOffset":8,"yOffset":10},"encoding":{"x":{"field":"o","type":"quantitative"},"y":{"field":"o","type":"quantitative"},"radius":{"field":"ro","type":"quantitative"},"radius2":{"field":"ri"},"theta":{"field":"a","type":"quantitative","stack":null},"theta2":{"field":"a2"},"fill":{"field":"s","type":"quantitative","legend":null},"stroke":{"field":"s","type":"quantitative","legend":null}}},
{"data":{"name":"grey"},"mark":{"type":"arc","fill":"#d3d3d3","xOffset":8,"yOffset":10},"encoding":{"x":{"field":"o","type":"quantitative"},"y":{"field":"o","type":"quantitative"},"radius":{"field":"v","type":"quantitative"},"radius2":{"field":"i"},"theta":{"field":"a0","type":"quantitative","stack":null},"theta2":{"field":"a1"}}},
{"data":{"name":"minorcir"},"mark":{"type":"arc","filled":false,"stroke":"#666666","strokeOpacity":0.3,"strokeDash":[5,4],"strokeWidth":1},"encoding":{"x":{"field":"o","type":"quantitative"},"y":{"field":"o","type":"quantitative"},"radius":{"field":"v","type":"quantitative"},"radius2":{"field":"i"},"theta":{"field":"a0","type":"quantitative","stack":null},"theta2":{"field":"a1"}}},
{"data":{"name":"majorcir"},"mark":{"type":"arc","filled":false,"stroke":"#555555","strokeOpacity":0.5,"strokeDash":[2,2],"strokeWidth":1},"encoding":{"x":{"field":"o","type":"quantitative"},"y":{"field":"o","type":"quantitative"},"radius":{"field":"v","type":"quantitative"},"radius2":{"field":"i"},"theta":{"field":"a0","type":"quantitative","stack":null},"theta2":{"field":"a1"}}},
{"data":{"name":"rim"},"mark":{"type":"arc","filled":false,"stroke":"#1f3f3f","strokeWidth":2},"encoding":{"x":{"field":"o","type":"quantitative"},"y":{"field":"o","type":"quantitative"},"radius":{"field":"v","type":"quantitative"},"radius2":{"field":"i"},"theta":{"field":"a0","type":"quantitative","stack":null},"theta2":{"field":"a1"}}},
{"data":{"name":"black"},"mark":{"type":"arc","filled":false,"stroke":"#222222","strokeWidth":3,"xOffset":8,"yOffset":10},"encoding":{"x":{"field":"o","type":"quantitative"},"y":{"field":"o","type":"quantitative"},"radius":{"field":"v","type":"quantitative"},"radius2":{"field":"i"},"theta":{"field":"a0","type":"quantitative","stack":null},"theta2":{"field":"a1"}}},
{"data":{"name":"minTR"},"mark":{"type":"rule","stroke":"#666666","strokeOpacity":0.3,"strokeDash":[4,3],"strokeWidth":1},"encoding":{"x":{"field":"x","type":"quantitative"},"y":{"field":"y","type":"quantitative"},"x2":{"field":"x2"},"y2":{"field":"y2"}}},
{"data":{"name":"majTR"},"mark":{"type":"rule","stroke":"#444444","strokeOpacity":0.7,"strokeDash":[2,2],"strokeWidth":1},"encoding":{"x":{"field":"x","type":"quantitative"},"y":{"field":"y","type":"quantitative"},"x2":{"field":"x2"},"y2":{"field":"y2"}}},
{"data":{"values":[{"x":0,"y":0,"y2":1.029}]},"mark":{"type":"rule","stroke":"#555555","strokeWidth":1.5},"encoding":{"x":{"field":"x","type":"quantitative"},"y":{"field":"y","type":"quantitative"},"y2":{"field":"y2"}}},
{"data":{"name":"radTR"},"mark":{"type":"rule","stroke":"#555555","strokeWidth":1.5},"encoding":{"x":{"field":"o","type":"quantitative"},"x2":{"field":"e"},"y":{"field":"y","type":"quantitative"}}},
{"data":{"name":"radTR"},"transform":[{"filter":"isValid(datum.t)"}],"mark":{"type":"text","align":"right","baseline":"middle","dx":-15,"dy":-10,"fontSize":33},"encoding":{"x":{"field":"o","type":"quantitative"},"y":{"field":"y","type":"quantitative"},"text":{"field":"t"}}},
{"data":{"name":"ang"},"mark":{"type":"text","align":"center","baseline":"middle","fontSize":34},"encoding":{"x":{"field":"o","type":"quantitative"},"y":{"field":"o","type":"quantitative"},"radius":{"field":"r","type":"quantitative"},"theta":{"field":"a","type":"quantitative","stack":null},"text":{"field":"t"}}},
{"data":{"name":"cup1"},"mark":{"type":"line","strokeWidth":7},"encoding":{"x":{"field":"x","type":"quantitative"},"y":{"field":"y","type":"quantitative"},"order":{"field":"a","type":"quantitative"},"color":{"field":"s","type":"nominal","scale":{"domain":["16 slots"],"range":["#ff8800"]}}}},
{"data":{"name":"cup1"},"transform":[{"filter":"datum.v !== -0.4"}],"mark":{"type":"point","filled":true,"size":150,"opacity":1},"encoding":{"x":{"field":"x","type":"quantitative"},"y":{"field":"y","type":"quantitative"},"color":{"field":"s","type":"nominal","legend":{"orient":"none","legendX":1133.5,"legendY":106,"title":"Cup 1","titleFont":"Liberation Serif","titleFontSize":34,"titleFontWeight":"normal","titleColor":"#000000","titlePadding":8,"titleAnchor":"start","labelFont":"Liberation Serif","labelFontSize":34,"labelColor":"#000000","labelOffset":38.5,"encoding":{"title":{"dx":{"value":22.5}},"symbols":{"shape":{"value":"M-3.58,0L3.58,0M1.08,0A1.08,1.08,0,1,1,-1.08,0A1.08,1.08,0,1,1,1.08,0Z"},"size":{"value":576},"strokeWidth":{"value":7},"fill":{"value":"#ff8800"},"stroke":{"value":"#ff8800"},"opacity":{"value":1}}}}}}},
{"data":{"values":[{"g":"a","i":0,"x":-0.154,"y":-0.235},{"g":"a","i":1,"x":-0.074,"y":-0.261},{"g":"a","i":2,"x":0.006,"y":-0.272},{"g":"a","i":3,"x":0.084,"y":-0.263},{"g":"a","i":4,"x":0.163,"y":-0.239}]},"mark":{"type":"line","color":"#ff0000","strokeWidth":4,"interpolate":"cardinal"},"encoding":{"x":{"field":"x","type":"quantitative"},"y":{"field":"y","type":"quantitative"},"detail":{"field":"g","type":"nominal"},"order":{"field":"i","type":"quantitative"}}},
{"data":{"values":[{"x":0.648,"y":-1.187,"x2":0.41,"y2":-0.951}]},"mark":{"type":"rule","stroke":"#ff0000","strokeWidth":4},"encoding":{"x":{"field":"x","type":"quantitative"},"y":{"field":"y","type":"quantitative"},"x2":{"field":"x2"},"y2":{"field":"y2"}}},
{"data":{"values":[{"x":-0.154,"y":-0.235,"dir":288},{"x":0.163,"y":-0.239,"dir":72},{"x":0.397,"y":-0.938,"dir":315}]},"mark":{"type":"point","filled":true,"opacity":1,"color":"#ff0000","shape":"M0,0L0.6,2L-0.6,2Z","size":420},"encoding":{"x":{"field":"x","type":"quantitative"},"y":{"field":"y","type":"quantitative"},"angle":{"field":"dir","type":"quantitative","scale":null}}},
{"data":{"values":[{"x":0.0144,"y":-0.3909,"t":"44°"}]},"mark":{"type":"text","align":"center","baseline":"middle","fontSize":42,"fontWeight":"bold","color":"#ff0000"},"encoding":{"x":{"field":"x","type":"quantitative"},"y":{"field":"y","type":"quantitative"},"text":{"field":"t"}}},
{"data":{"values":[{"x":0.7572,"y":-1.2634,"t":"Leak area"}]},"mark":{"type":"text","align":"center","baseline":"middle","fontSize":65,"fontWeight":"bold","color":"#ff0000"},"encoding":{"x":{"field":"x","type":"quantitative"},"y":{"field":"y","type":"quantitative"},"text":{"field":"t"}}}
]},
{"width":1340,"height":1213,"layer":[
{"data":{"name":"minorcir"},"mark":{"type":"arc","filled":false,"stroke":"#d4d4d4","strokeDash":[5,4],"strokeWidth":1},"encoding":{"x":{"field":"o","type":"quantitative","scale":{"domain":[-1.2115,1.4368],"nice":false}},"y":{"field":"o","type":"quantitative","scale":{"domain":[-1.1561,1.2411],"nice":false}},"radius":{"field":"v","type":"quantitative","scale":{"type":"linear","domain":[-0.4,0],"range":[0,512],"nice":false}},"radius2":{"field":"i"},"theta":{"field":"a0","type":"quantitative","stack":null,"scale":{"domain":[90,-270],"range":[0,6.2832],"nice":false}},"theta2":{"field":"a1"}}},
{"data":{"name":"majorcir"},"mark":{"type":"arc","filled":false,"stroke":"#aaaaaa","strokeDash":[2,2],"strokeWidth":1},"encoding":{"x":{"field":"o","type":"quantitative"},"y":{"field":"o","type":"quantitative"},"radius":{"field":"v","type":"quantitative"},"radius2":{"field":"i"},"theta":{"field":"a0","type":"quantitative","stack":null},"theta2":{"field":"a1"}}},
{"data":{"name":"rim"},"mark":{"type":"arc","filled":false,"stroke":"#999999","strokeWidth":1.5},"encoding":{"x":{"field":"o","type":"quantitative"},"y":{"field":"o","type":"quantitative"},"radius":{"field":"v","type":"quantitative"},"radius2":{"field":"i"},"theta":{"field":"a0","type":"quantitative","stack":null},"theta2":{"field":"a1"}}},
{"data":{"name":"minBL"},"mark":{"type":"rule","stroke":"#dddddd","strokeDash":[4,3],"strokeWidth":1},"encoding":{"x":{"field":"x","type":"quantitative"},"y":{"field":"y","type":"quantitative"},"x2":{"field":"x2"},"y2":{"field":"y2"}}},
{"data":{"name":"majBL"},"mark":{"type":"rule","stroke":"#8c8c8c","strokeDash":[2,2],"strokeWidth":1},"encoding":{"x":{"field":"x","type":"quantitative"},"y":{"field":"y","type":"quantitative"},"x2":{"field":"x2"},"y2":{"field":"y2"}}},
{"data":{"values":[{"x":0,"y":0,"y2":1.012}]},"mark":{"type":"rule","stroke":"#666666","strokeWidth":1.5},"encoding":{"x":{"field":"x","type":"quantitative"},"y":{"field":"y","type":"quantitative"},"y2":{"field":"y2"}}},
{"data":{"name":"radBL"},"mark":{"type":"rule","stroke":"#666666","strokeWidth":1.5},"encoding":{"x":{"field":"o","type":"quantitative"},"x2":{"field":"e"},"y":{"field":"y","type":"quantitative"}}},
{"data":{"name":"radBL"},"transform":[{"filter":"isValid(datum.t)"}],"mark":{"type":"text","align":"right","baseline":"middle","dx":-17,"dy":-10,"fontSize":33},"encoding":{"x":{"field":"o","type":"quantitative"},"y":{"field":"y","type":"quantitative"},"text":{"field":"t"}}},
{"data":{"name":"ang"},"mark":{"type":"text","align":"center","baseline":"middle","fontSize":34},"encoding":{"x":{"field":"o","type":"quantitative"},"y":{"field":"o","type":"quantitative"},"radius":{"field":"r","type":"quantitative"},"theta":{"field":"a","type":"quantitative","stack":null},"text":{"field":"t"}}},
{"data":{"name":"cup2"},"mark":{"type":"line","strokeWidth":3.5,"strokeDash":[3,4]},"encoding":{"x":{"field":"x","type":"quantitative"},"y":{"field":"y","type":"quantitative"},"order":{"field":"a","type":"quantitative"},"color":{"field":"s","type":"nominal","scale":{"domain":["16 slots","24 slots","32 slots"],"range":["#ff8800","#808000","#ff2bff"]}}}},
{"data":{"name":"cup2"},"transform":[{"filter":"datum.s === '16 slots' && datum.v !== -0.4"}],"mark":{"type":"point","shape":"circle","filled":true,"size":130,"opacity":1},"encoding":{"x":{"field":"x","type":"quantitative"},"y":{"field":"y","type":"quantitative"},"color":{"field":"s","type":"nominal","legend":{"orient":"none","legendX":1158,"legendY":144,"title":"Cup 2","titleFont":"Liberation Serif","titleFontSize":34,"titleFontWeight":"normal","titleColor":"#000000","titlePadding":10,"titleAnchor":"start","labelFont":"Liberation Serif","labelFontSize":34,"labelColor":"#000000","labelOffset":40,"rowPadding":10,"encoding":{"title":{"dx":{"value":23}},"symbols":{"shape":{"value":"M-3.54,0L3.54,0"},"size":{"value":576},"strokeWidth":{"value":3.5},"strokeDash":{"value":[3,3]},"fill":{"value":"transparent"},"stroke":{"value":{"expr":"datum.value==='16 slots'?'#ff8800':datum.value==='24 slots'?'#808000':'#ff2bff'"}},"opacity":{"value":1}}}}}}},
{"data":{"name":"cup2"},"transform":[{"filter":"datum.s === '24 slots' && datum.v !== -0.4"}],"mark":{"type":"point","shape":"square","filled":true,"size":80,"opacity":1},"encoding":{"x":{"field":"x","type":"quantitative"},"y":{"field":"y","type":"quantitative"},"color":{"field":"s","type":"nominal"}}},
{"data":{"name":"cup2"},"transform":[{"filter":"datum.s === '32 slots' && datum.v !== -0.4"}],"mark":{"type":"point","shape":"triangle-up","filled":true,"size":120,"opacity":1},"encoding":{"x":{"field":"x","type":"quantitative"},"y":{"field":"y","type":"quantitative"},"color":{"field":"s","type":"nominal"}}},
{"data":{"values":[{"x":1.1047,"y":0.836}]},"mark":{"type":"point","shape":"circle","filled":true,"size":531,"opacity":1,"color":"#ff8800"},"encoding":{"x":{"field":"x","type":"quantitative"},"y":{"field":"y","type":"quantitative"}}},
{"data":{"values":[{"x":1.1047,"y":0.749}]},"mark":{"type":"point","shape":"square","filled":true,"size":230,"opacity":1,"color":"#808000"},"encoding":{"x":{"field":"x","type":"quantitative"},"y":{"field":"y","type":"quantitative"}}},
{"data":{"values":[{"x":1.1047,"y":0.66}]},"mark":{"type":"point","shape":"triangle-up","filled":true,"size":400,"opacity":1,"color":"#ff2bff"},"encoding":{"x":{"field":"x","type":"quantitative"},"y":{"field":"y","type":"quantitative"}}},
{"data":{"values":[{"x":0.1344,"y":0.6917,"t":"Leak area (mm)"}]},"mark":{"type":"text","align":"center","baseline":"middle","fontSize":45,"fontWeight":"bold"},"encoding":{"x":{"field":"x","type":"quantitative"},"y":{"field":"y","type":"quantitative"},"text":{"field":"t"}}},
{"data":{"values":[{"x":1.1245,"y":0.2292,"x2":1.3281}]},"mark":{"type":"rule","stroke":"#ff0000","strokeWidth":28,"strokeCap":"round"},"encoding":{"x":{"field":"x","type":"quantitative"},"x2":{"field":"x2"},"y":{"field":"y","type":"quantitative"}}},
{"data":{"values":[{"x":1.3281,"y":0.2945,"y2":0.164},{"x":1.5257,"y":0.2292,"y2":0.2292}]},"mark":{"type":"area","color":"#ff0000","orient":"vertical"},"encoding":{"x":{"field":"x","type":"quantitative"},"y":{"field":"y","type":"quantitative"},"y2":{"field":"y2"}}}
]},
{"width":1340,"height":1213,"layer":[
{"data":{"name":"segO"},"mark":{"type":"arc","strokeWidth":1},"encoding":{"x":{"field":"o","type":"quantitative","scale":{"domain":[-1.2189,1.4719],"nice":false}},"y":{"field":"o","type":"quantitative","scale":{"domain":[-1.1787,1.257],"nice":false}},"radius":{"field":"ro","type":"quantitative","scale":{"type":"linear","domain":[-0.4,0],"range":[0,505],"nice":false}},"radius2":{"field":"ri"},"theta":{"field":"a","type":"quantitative","stack":null,"scale":{"domain":[90,-270],"range":[0,6.2832],"nice":false}},"theta2":{"field":"a2"},"fill":{"field":"s","type":"quantitative","scale":{"domain":[107,255],"range":["#006b61","#00fff0"]},"legend":null},"stroke":{"field":"s","type":"quantitative","scale":{"domain":[107,255],"range":["#006b61","#00fff0"]},"legend":null}}},
{"data":{"name":"segI"},"mark":{"type":"arc","strokeWidth":1,"xOffset":10,"yOffset":8},"encoding":{"x":{"field":"o","type":"quantitative"},"y":{"field":"o","type":"quantitative"},"radius":{"field":"ro","type":"quantitative"},"radius2":{"field":"ri"},"theta":{"field":"a","type":"quantitative","stack":null},"theta2":{"field":"a2"},"fill":{"field":"s","type":"quantitative","legend":null},"stroke":{"field":"s","type":"quantitative","legend":null}}},
{"data":{"name":"grey"},"mark":{"type":"arc","fill":"#d3d3d3","xOffset":10,"yOffset":8},"encoding":{"x":{"field":"o","type":"quantitative"},"y":{"field":"o","type":"quantitative"},"radius":{"field":"v","type":"quantitative"},"radius2":{"field":"i"},"theta":{"field":"a0","type":"quantitative","stack":null},"theta2":{"field":"a1"}}},
{"data":{"name":"minorcir"},"mark":{"type":"arc","filled":false,"stroke":"#666666","strokeOpacity":0.3,"strokeDash":[5,4],"strokeWidth":1},"encoding":{"x":{"field":"o","type":"quantitative"},"y":{"field":"o","type":"quantitative"},"radius":{"field":"v","type":"quantitative"},"radius2":{"field":"i"},"theta":{"field":"a0","type":"quantitative","stack":null},"theta2":{"field":"a1"}}},
{"data":{"name":"majorcir"},"mark":{"type":"arc","filled":false,"stroke":"#555555","strokeOpacity":0.5,"strokeDash":[2,2],"strokeWidth":1},"encoding":{"x":{"field":"o","type":"quantitative"},"y":{"field":"o","type":"quantitative"},"radius":{"field":"v","type":"quantitative"},"radius2":{"field":"i"},"theta":{"field":"a0","type":"quantitative","stack":null},"theta2":{"field":"a1"}}},
{"data":{"name":"rim"},"mark":{"type":"arc","filled":false,"stroke":"#1f3f3f","strokeWidth":2},"encoding":{"x":{"field":"o","type":"quantitative"},"y":{"field":"o","type":"quantitative"},"radius":{"field":"v","type":"quantitative"},"radius2":{"field":"i"},"theta":{"field":"a0","type":"quantitative","stack":null},"theta2":{"field":"a1"}}},
{"data":{"name":"black"},"mark":{"type":"arc","filled":false,"stroke":"#222222","strokeWidth":3,"xOffset":10,"yOffset":8},"encoding":{"x":{"field":"o","type":"quantitative"},"y":{"field":"o","type":"quantitative"},"radius":{"field":"v","type":"quantitative"},"radius2":{"field":"i"},"theta":{"field":"a0","type":"quantitative","stack":null},"theta2":{"field":"a1"}}},
{"data":{"name":"minBR"},"mark":{"type":"rule","stroke":"#666666","strokeOpacity":0.3,"strokeDash":[4,3],"strokeWidth":1},"encoding":{"x":{"field":"x","type":"quantitative"},"y":{"field":"y","type":"quantitative"},"x2":{"field":"x2"},"y2":{"field":"y2"}}},
{"data":{"name":"majBR"},"mark":{"type":"rule","stroke":"#444444","strokeOpacity":0.7,"strokeDash":[2,2],"strokeWidth":1},"encoding":{"x":{"field":"x","type":"quantitative"},"y":{"field":"y","type":"quantitative"},"x2":{"field":"x2"},"y2":{"field":"y2"}}},
{"data":{"values":[{"x":0,"y":0,"y2":1.014}]},"mark":{"type":"rule","stroke":"#555555","strokeWidth":1.5},"encoding":{"x":{"field":"x","type":"quantitative"},"y":{"field":"y","type":"quantitative"},"y2":{"field":"y2"}}},
{"data":{"name":"radBR"},"mark":{"type":"rule","stroke":"#555555","strokeWidth":1.5},"encoding":{"x":{"field":"o","type":"quantitative"},"x2":{"field":"e"},"y":{"field":"y","type":"quantitative"}}},
{"data":{"values":[{"x":0.0793,"y":0.8233,"x2":0.3343,"y2":0.7711},{"x":0.0793,"y":0.6044,"x2":0.3343,"y2":0.5492},{"x":-0.031,"y":0.3645,"x2":0.185,"y2":0.3645}]},"mark":{"type":"rule","stroke":"#ffffff","strokeWidth":65},"encoding":{"x":{"field":"x","type":"quantitative"},"y":{"field":"y","type":"quantitative"},"x2":{"field":"x2"},"y2":{"field":"y2"}}},
{"data":{"name":"radBR"},"transform":[{"filter":"isValid(datum.t)"}],"mark":{"type":"text","align":"right","baseline":"middle","dx":-15,"dy":-10,"fontSize":33},"encoding":{"x":{"field":"o","type":"quantitative"},"y":{"field":"y","type":"quantitative"},"text":{"field":"t"}}},
{"data":{"name":"ang"},"mark":{"type":"text","align":"center","baseline":"middle","fontSize":34},"encoding":{"x":{"field":"o","type":"quantitative"},"y":{"field":"o","type":"quantitative"},"radius":{"field":"r","type":"quantitative"},"theta":{"field":"a","type":"quantitative","stack":null},"text":{"field":"t"}}},
{"data":{"name":"cup2"},"mark":{"type":"line","strokeWidth":8},"encoding":{"x":{"field":"x","type":"quantitative"},"y":{"field":"y","type":"quantitative"},"order":{"field":"a","type":"quantitative"},"color":{"field":"s","type":"nominal","scale":{"domain":["16 slots","24 slots","32 slots"],"range":["#ff8800","#808000","#ff2bff"]}}}},
{"data":{"name":"cup2"},"transform":[{"filter":"datum.s === '16 slots' && datum.v !== -0.4"}],"mark":{"type":"point","shape":"circle","filled":true,"size":110,"opacity":1},"encoding":{"x":{"field":"x","type":"quantitative"},"y":{"field":"y","type":"quantitative"},"color":{"field":"s","type":"nominal","legend":{"orient":"none","legendX":1144,"legendY":151,"title":"Cup 2","titleFont":"Liberation Serif","titleFontSize":34,"titleFontWeight":"normal","titleColor":"#000000","titlePadding":8,"titleAnchor":"start","labelFont":"Liberation Serif","labelFontSize":34,"labelColor":"#000000","labelOffset":35,"rowPadding":10,"encoding":{"title":{"dx":{"value":23}},"symbols":{"shape":{"value":"M-3.67,0L3.67,0"},"size":{"value":576},"strokeWidth":{"value":8},"fill":{"value":"transparent"},"stroke":{"value":{"expr":"datum.value==='16 slots'?'#ff8800':datum.value==='24 slots'?'#808000':'#ff2bff'"}},"opacity":{"value":1}}}}}}},
{"data":{"name":"cup2"},"transform":[{"filter":"datum.s === '24 slots' && datum.v !== -0.4"}],"mark":{"type":"point","shape":"square","filled":true,"size":70,"opacity":1},"encoding":{"x":{"field":"x","type":"quantitative"},"y":{"field":"y","type":"quantitative"},"color":{"field":"s","type":"nominal"}}},
{"data":{"name":"cup2"},"transform":[{"filter":"datum.s === '32 slots' && datum.v !== -0.4"}],"mark":{"type":"point","shape":"triangle-up","filled":true,"size":100,"opacity":1},"encoding":{"x":{"field":"x","type":"quantitative"},"y":{"field":"y","type":"quantitative"},"color":{"field":"s","type":"nominal"}}},
{"data":{"values":[{"x":1.1104,"y":0.8353}]},"mark":{"type":"point","shape":"circle","filled":true,"size":400,"opacity":1,"color":"#ff8800"},"encoding":{"x":{"field":"x","type":"quantitative"},"y":{"field":"y","type":"quantitative"}}},
{"data":{"values":[{"x":1.1104,"y":0.749}]},"mark":{"type":"point","shape":"square","filled":true,"size":200,"opacity":1,"color":"#808000"},"encoding":{"x":{"field":"x","type":"quantitative"},"y":{"field":"y","type":"quantitative"}}},
{"data":{"values":[{"x":1.1104,"y":0.6586}]},"mark":{"type":"point","shape":"triangle-up","filled":true,"size":320,"opacity":1,"color":"#ff2bff"},"encoding":{"x":{"field":"x","type":"quantitative"},"y":{"field":"y","type":"quantitative"}}},
{"data":{"values":[{"g":"70","i":0,"x":-0.673,"y":0.392},{"g":"70","i":1,"x":-0.614,"y":0.516},{"g":"70","i":2,"x":-0.478,"y":0.618},{"g":"70","i":3,"x":-0.341,"y":0.681},{"g":"70","i":4,"x":-0.203,"y":0.713},{"g":"70","i":5,"x":0.002,"y":0.725},{"g":"70","i":6,"x":0.169,"y":0.715},{"g":"70","i":7,"x":0.337,"y":0.679},{"g":"70","i":8,"x":0.492,"y":0.633},{"g":"70","i":9,"x":0.598,"y":0.586},{"g":"70","i":10,"x":0.691,"y":0.544},{"g":"58","i":0,"x":-0.361,"y":0.394},{"g":"58","i":1,"x":-0.261,"y":0.454},{"g":"58","i":2,"x":-0.139,"y":0.512},{"g":"58","i":3,"x":0,"y":0.522},{"g":"58","i":4,"x":0.139,"y":0.504},{"g":"58","i":5,"x":0.277,"y":0.464},{"g":"58","i":6,"x":0.367,"y":0.428},{"g":"58","i":7,"x":0.434,"y":0.392},{"g":"46","i":0,"x":-0.136,"y":0.211},{"g":"46","i":1,"x":-0.076,"y":0.243},{"g":"46","i":2,"x":0,"y":0.253},{"g":"46","i":3,"x":0.076,"y":0.243},{"g":"46","i":4,"x":0.149,"y":0.211}]},"mark":{"type":"line","color":"#ff0000","strokeWidth":4,"interpolate":"cardinal"},"encoding":{"x":{"field":"x","type":"quantitative"},"y":{"field":"y","type":"quantitative"},"detail":{"field":"g","type":"nominal"},"order":{"field":"i","type":"quantitative"}}},
{"data":{"values":[{"x":0.6245,"y":1.2028,"x2":0.375,"y2":0.955}]},"mark":{"type":"rule","stroke":"#ff0000","strokeWidth":4},"encoding":{"x":{"field":"x","type":"quantitative"},"y":{"field":"y","type":"quantitative"},"x2":{"field":"x2"},"y2":{"field":"y2"}}},
{"data":{"values":[{"x":-0.673,"y":0.392,"dir":205},{"x":0.691,"y":0.544,"dir":114.5},{"x":-0.361,"y":0.394,"dir":239},{"x":0.434,"y":0.392,"dir":118.6},{"x":-0.136,"y":0.211,"dir":241.5},{"x":0.149,"y":0.211,"dir":114},{"x":0.3614,"y":0.9418,"dir":225}]},"mark":{"type":"point","filled":true,"opacity":1,"color":"#ff0000","shape":"M0,0L0.6,2L-0.6,2Z","size":420},"encoding":{"x":{"field":"x","type":"quantitative"},"y":{"field":"y","type":"quantitative"},"angle":{"field":"dir","type":"quantitative","scale":null}}},
{"data":{"values":[{"x":0.2068,"y":0.8052,"t":"70°"},{"x":0.2068,"y":0.5763,"t":"58°"},{"x":0.0843,"y":0.3534,"t":"46°"}]},"mark":{"type":"text","align":"center","baseline":"middle","fontSize":40,"angle":12,"color":"#ff0000"},"encoding":{"x":{"field":"x","type":"quantitative"},"y":{"field":"y","type":"quantitative"},"text":{"field":"t"}}}
]}
]}
